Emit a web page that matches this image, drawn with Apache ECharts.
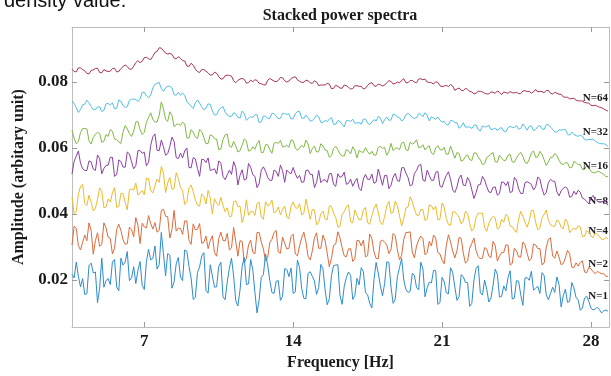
<!DOCTYPE html>
<html><head><meta charset="utf-8">
<script src="https://cdn.jsdelivr.net/npm/echarts@6/dist/echarts.min.js"></script>
<style>html,body{margin:0;padding:0;background:#fff}#c{width:611px;height:376px}</style>
</head><body><div id="c"></div>
<script>
// Frequency samples (Hz): main grid and the in-between grid
const freq = [3.6,3.8,4.0,4.2,4.4,4.6,4.8,5.0,5.2,5.4,5.6,5.8,6.0,6.2,6.4,6.6,6.8,7.0,7.2,7.4,7.6,7.8,8.0,8.2,8.4,8.6,8.8,9.0,9.2,9.4,9.6,9.8,10.0,10.2,10.4,10.6,10.8,11.0,11.2,11.4,11.6,11.8,12.0,12.2,12.4,12.6,12.8,13.0,13.2,13.4,13.6,13.8,14.0,14.2,14.4,14.6,14.8,15.0,15.2,15.4,15.6,15.8,16.0,16.2,16.4,16.6,16.8,17.0,17.2,17.4,17.6,17.8,18.0,18.2,18.4,18.6,18.8,19.0,19.2,19.4,19.6,19.8,20.0,20.2,20.4,20.6,20.8,21.0,21.2,21.4,21.6,21.8,22.0,22.2,22.4,22.6,22.8,23.0,23.2,23.4,23.6,23.8,24.0,24.2,24.4,24.6,24.8,25.0,25.2,25.4,25.6,25.8,26.0,26.2,26.4,26.6,26.8,27.0,27.2,27.4,27.6,27.8,28.0,28.2,28.4,28.6,28.8];
const freqMid = [3.7,3.9,4.1,4.3,4.5,4.7,4.9,5.1,5.3,5.5,5.7,5.9,6.1,6.3,6.5,6.7,6.9,7.1,7.3,7.5,7.7,7.9,8.1,8.3,8.5,8.7,8.9,9.1,9.3,9.5,9.7,9.9,10.1,10.3,10.5,10.7,10.9,11.1,11.3,11.5,11.7,11.9,12.1,12.3,12.5,12.7,12.9,13.1,13.3,13.5,13.7,13.9,14.1,14.3,14.5,14.7,14.9,15.1,15.3,15.5,15.7,15.9,16.1,16.3,16.5,16.7,16.9,17.1,17.3,17.5,17.7,17.9,18.1,18.3,18.5,18.7,18.9,19.1,19.3,19.5,19.7,19.9,20.1,20.3,20.5,20.7,20.9,21.1,21.3,21.5,21.7,21.9,22.1,22.3,22.5,22.7,22.9,23.1,23.3,23.5,23.7,23.9,24.1,24.3,24.5,24.7,24.9,25.1,25.3,25.5,25.7,25.9,26.1,26.3,26.5,26.7,26.9,27.1,27.3,27.5,27.7,27.9,28.1,28.3,28.5,28.7];

// N=64
const n64 = [0.0839,0.0831,0.0843,0.0834,0.0825,0.0837,0.0842,0.0828,0.0834,0.0833,0.0842,0.0832,0.0847,0.0847,0.0839,0.0859,0.0859,0.0874,0.0871,0.0878,0.0893,0.0903,0.0888,0.0887,0.0873,0.0877,0.0865,0.0849,0.0857,0.0839,0.0829,0.0838,0.0828,0.0822,0.0827,0.0809,0.0819,0.0820,0.0804,0.0805,0.0811,0.0797,0.0806,0.0807,0.0796,0.0792,0.0805,0.0807,0.0801,0.0814,0.0804,0.0803,0.0814,0.0807,0.0799,0.0806,0.0798,0.0804,0.0789,0.0791,0.0796,0.0780,0.0790,0.0782,0.0791,0.0784,0.0780,0.0789,0.0787,0.0781,0.0796,0.0789,0.0794,0.0788,0.0798,0.0802,0.0796,0.0798,0.0810,0.0798,0.0805,0.0798,0.0810,0.0809,0.0799,0.0794,0.0799,0.0786,0.0790,0.0793,0.0775,0.0782,0.0774,0.0778,0.0770,0.0766,0.0772,0.0766,0.0764,0.0769,0.0773,0.0762,0.0768,0.0771,0.0767,0.0765,0.0773,0.0771,0.0766,0.0778,0.0772,0.0768,0.0775,0.0764,0.0766,0.0763,0.0754,0.0749,0.0751,0.0743,0.0742,0.0737,0.0730,0.0730,0.0724,0.0719,0.0712];
const n64m = [0.0832,0.0843,0.0838,0.0826,0.0835,0.0841,0.0829,0.0838,0.0832,0.0841,0.0831,0.0841,0.0852,0.0839,0.0848,0.0865,0.0863,0.0875,0.0868,0.0890,0.0904,0.0895,0.0885,0.0884,0.0870,0.0872,0.0864,0.0847,0.0851,0.0832,0.0838,0.0833,0.0821,0.0830,0.0817,0.0810,0.0821,0.0818,0.0798,0.0809,0.0808,0.0798,0.0801,0.0805,0.0795,0.0791,0.0811,0.0803,0.0805,0.0813,0.0800,0.0811,0.0816,0.0802,0.0799,0.0804,0.0796,0.0800,0.0791,0.0791,0.0794,0.0781,0.0787,0.0781,0.0789,0.0779,0.0789,0.0787,0.0779,0.0790,0.0798,0.0787,0.0792,0.0791,0.0804,0.0794,0.0800,0.0805,0.0798,0.0805,0.0800,0.0809,0.0807,0.0800,0.0798,0.0801,0.0789,0.0788,0.0786,0.0788,0.0779,0.0775,0.0781,0.0772,0.0764,0.0772,0.0770,0.0764,0.0770,0.0766,0.0769,0.0770,0.0766,0.0768,0.0769,0.0765,0.0774,0.0772,0.0770,0.0770,0.0771,0.0774,0.0766,0.0769,0.0763,0.0755,0.0754,0.0750,0.0745,0.0743,0.0738,0.0736,0.0728,0.0727,0.0722,0.0715];
// N=32
const n32 = [0.0742,0.0722,0.0717,0.0733,0.0737,0.0717,0.0725,0.0711,0.0734,0.0731,0.0719,0.0746,0.0729,0.0725,0.0748,0.0748,0.0749,0.0769,0.0752,0.0782,0.0796,0.0780,0.0783,0.0788,0.0762,0.0769,0.0767,0.0740,0.0726,0.0737,0.0736,0.0716,0.0734,0.0713,0.0701,0.0721,0.0709,0.0696,0.0707,0.0693,0.0712,0.0684,0.0695,0.0701,0.0677,0.0697,0.0690,0.0705,0.0697,0.0690,0.0704,0.0704,0.0689,0.0711,0.0691,0.0700,0.0682,0.0690,0.0695,0.0677,0.0680,0.0692,0.0672,0.0681,0.0664,0.0683,0.0687,0.0676,0.0672,0.0688,0.0671,0.0686,0.0696,0.0674,0.0694,0.0685,0.0701,0.0692,0.0687,0.0705,0.0692,0.0692,0.0702,0.0707,0.0682,0.0690,0.0694,0.0678,0.0671,0.0683,0.0677,0.0660,0.0677,0.0664,0.0659,0.0670,0.0652,0.0664,0.0669,0.0657,0.0653,0.0662,0.0649,0.0666,0.0663,0.0657,0.0673,0.0654,0.0667,0.0656,0.0668,0.0656,0.0671,0.0657,0.0648,0.0654,0.0656,0.0639,0.0642,0.0636,0.0636,0.0624,0.0626,0.0621,0.0614,0.0613,0.0605];
const n32m = [0.0736,0.0708,0.0731,0.0745,0.0726,0.0716,0.0725,0.0714,0.0735,0.0737,0.0721,0.0742,0.0723,0.0745,0.0748,0.0741,0.0769,0.0758,0.0761,0.0793,0.0799,0.0772,0.0787,0.0782,0.0760,0.0760,0.0760,0.0735,0.0720,0.0746,0.0725,0.0721,0.0732,0.0700,0.0716,0.0726,0.0700,0.0696,0.0704,0.0691,0.0705,0.0691,0.0693,0.0701,0.0679,0.0696,0.0690,0.0704,0.0689,0.0705,0.0702,0.0688,0.0704,0.0711,0.0690,0.0692,0.0683,0.0700,0.0678,0.0684,0.0688,0.0672,0.0683,0.0672,0.0683,0.0681,0.0675,0.0677,0.0688,0.0675,0.0679,0.0682,0.0691,0.0686,0.0684,0.0703,0.0694,0.0682,0.0701,0.0700,0.0690,0.0704,0.0695,0.0699,0.0695,0.0687,0.0685,0.0681,0.0670,0.0683,0.0677,0.0665,0.0663,0.0664,0.0669,0.0656,0.0667,0.0665,0.0656,0.0661,0.0659,0.0651,0.0661,0.0662,0.0668,0.0659,0.0664,0.0666,0.0653,0.0665,0.0658,0.0671,0.0663,0.0649,0.0655,0.0656,0.0642,0.0648,0.0637,0.0638,0.0626,0.0626,0.0627,0.0617,0.0613,0.0611];
// N=16
const n16 = [0.0654,0.0613,0.0647,0.0659,0.0622,0.0632,0.0648,0.0617,0.0641,0.0656,0.0627,0.0618,0.0648,0.0658,0.0635,0.0679,0.0656,0.0648,0.0693,0.0687,0.0679,0.0740,0.0687,0.0710,0.0665,0.0673,0.0678,0.0631,0.0656,0.0633,0.0656,0.0632,0.0614,0.0637,0.0627,0.0597,0.0640,0.0606,0.0620,0.0588,0.0609,0.0621,0.0592,0.0596,0.0623,0.0587,0.0610,0.0584,0.0617,0.0623,0.0605,0.0602,0.0622,0.0593,0.0608,0.0624,0.0583,0.0606,0.0589,0.0606,0.0592,0.0577,0.0605,0.0582,0.0576,0.0592,0.0604,0.0570,0.0588,0.0601,0.0581,0.0578,0.0602,0.0599,0.0578,0.0614,0.0599,0.0595,0.0618,0.0592,0.0612,0.0625,0.0603,0.0594,0.0607,0.0580,0.0607,0.0594,0.0581,0.0606,0.0569,0.0584,0.0563,0.0579,0.0562,0.0585,0.0564,0.0552,0.0575,0.0586,0.0557,0.0570,0.0563,0.0581,0.0557,0.0580,0.0575,0.0553,0.0585,0.0572,0.0590,0.0564,0.0558,0.0572,0.0577,0.0552,0.0556,0.0540,0.0559,0.0549,0.0535,0.0548,0.0529,0.0525,0.0528,0.0520,0.0513];
const n16m = [0.0630,0.0620,0.0659,0.0658,0.0612,0.0642,0.0644,0.0621,0.0635,0.0651,0.0626,0.0614,0.0668,0.0644,0.0651,0.0680,0.0641,0.0678,0.0707,0.0679,0.0699,0.0719,0.0681,0.0699,0.0671,0.0668,0.0673,0.0630,0.0648,0.0629,0.0650,0.0613,0.0640,0.0628,0.0595,0.0626,0.0642,0.0602,0.0606,0.0592,0.0628,0.0591,0.0604,0.0613,0.0586,0.0610,0.0595,0.0615,0.0614,0.0603,0.0608,0.0625,0.0600,0.0600,0.0602,0.0613,0.0598,0.0588,0.0613,0.0594,0.0572,0.0599,0.0595,0.0576,0.0595,0.0582,0.0593,0.0593,0.0587,0.0589,0.0590,0.0579,0.0605,0.0602,0.0590,0.0592,0.0600,0.0615,0.0595,0.0618,0.0615,0.0601,0.0610,0.0602,0.0585,0.0600,0.0595,0.0602,0.0582,0.0588,0.0586,0.0560,0.0575,0.0565,0.0585,0.0573,0.0550,0.0571,0.0583,0.0558,0.0578,0.0562,0.0578,0.0558,0.0570,0.0587,0.0557,0.0566,0.0591,0.0573,0.0581,0.0547,0.0572,0.0583,0.0563,0.0550,0.0555,0.0541,0.0556,0.0550,0.0535,0.0541,0.0525,0.0529,0.0524,0.0514];
// N=8
const n8 = [0.0521,0.0575,0.0554,0.0532,0.0561,0.0536,0.0579,0.0522,0.0547,0.0572,0.0514,0.0564,0.0542,0.0588,0.0558,0.0546,0.0592,0.0587,0.0557,0.0634,0.0593,0.0624,0.0578,0.0605,0.0620,0.0568,0.0570,0.0600,0.0540,0.0567,0.0514,0.0565,0.0570,0.0534,0.0521,0.0554,0.0504,0.0533,0.0559,0.0488,0.0534,0.0506,0.0542,0.0514,0.0492,0.0543,0.0511,0.0502,0.0529,0.0548,0.0496,0.0526,0.0541,0.0508,0.0496,0.0532,0.0520,0.0480,0.0532,0.0502,0.0496,0.0523,0.0484,0.0511,0.0527,0.0493,0.0484,0.0508,0.0471,0.0520,0.0505,0.0493,0.0536,0.0487,0.0517,0.0487,0.0523,0.0499,0.0541,0.0511,0.0489,0.0532,0.0551,0.0499,0.0517,0.0502,0.0529,0.0481,0.0517,0.0505,0.0465,0.0509,0.0487,0.0511,0.0473,0.0465,0.0489,0.0503,0.0467,0.0481,0.0457,0.0497,0.0486,0.0465,0.0511,0.0476,0.0462,0.0498,0.0490,0.0482,0.0506,0.0457,0.0495,0.0500,0.0467,0.0470,0.0482,0.0451,0.0469,0.0472,0.0448,0.0438,0.0448,0.0446,0.0435,0.0440,0.0426];
const n8m = [0.0560,0.0591,0.0537,0.0532,0.0558,0.0532,0.0568,0.0538,0.0548,0.0572,0.0519,0.0559,0.0542,0.0582,0.0537,0.0592,0.0584,0.0546,0.0608,0.0643,0.0592,0.0604,0.0583,0.0633,0.0571,0.0584,0.0591,0.0541,0.0571,0.0538,0.0566,0.0556,0.0532,0.0537,0.0561,0.0514,0.0519,0.0520,0.0541,0.0517,0.0503,0.0553,0.0519,0.0480,0.0533,0.0530,0.0502,0.0533,0.0514,0.0532,0.0533,0.0522,0.0522,0.0517,0.0497,0.0533,0.0520,0.0496,0.0495,0.0504,0.0522,0.0489,0.0522,0.0514,0.0490,0.0506,0.0498,0.0477,0.0506,0.0505,0.0521,0.0497,0.0512,0.0517,0.0477,0.0512,0.0501,0.0540,0.0524,0.0485,0.0523,0.0547,0.0503,0.0533,0.0502,0.0526,0.0485,0.0501,0.0528,0.0473,0.0482,0.0518,0.0486,0.0499,0.0447,0.0488,0.0514,0.0483,0.0465,0.0482,0.0462,0.0496,0.0498,0.0468,0.0503,0.0462,0.0495,0.0494,0.0473,0.0512,0.0478,0.0465,0.0505,0.0499,0.0455,0.0478,0.0477,0.0453,0.0459,0.0466,0.0445,0.0431,0.0456,0.0440,0.0436,0.0437];
// N=4
const n4 = [0.0452,0.0408,0.0484,0.0432,0.0457,0.0409,0.0445,0.0469,0.0421,0.0436,0.0480,0.0423,0.0462,0.0413,0.0476,0.0494,0.0464,0.0458,0.0507,0.0464,0.0506,0.0544,0.0465,0.0511,0.0477,0.0508,0.0471,0.0438,0.0488,0.0442,0.0424,0.0453,0.0471,0.0400,0.0433,0.0450,0.0407,0.0392,0.0437,0.0422,0.0374,0.0443,0.0407,0.0396,0.0436,0.0384,0.0425,0.0442,0.0407,0.0397,0.0424,0.0386,0.0437,0.0417,0.0397,0.0445,0.0384,0.0412,0.0375,0.0409,0.0382,0.0423,0.0389,0.0362,0.0407,0.0427,0.0373,0.0396,0.0383,0.0420,0.0369,0.0416,0.0406,0.0368,0.0425,0.0402,0.0439,0.0394,0.0387,0.0421,0.0438,0.0397,0.0414,0.0380,0.0428,0.0412,0.0382,0.0433,0.0386,0.0366,0.0407,0.0390,0.0378,0.0402,0.0348,0.0390,0.0402,0.0360,0.0372,0.0393,0.0354,0.0384,0.0399,0.0363,0.0351,0.0384,0.0393,0.0360,0.0411,0.0375,0.0357,0.0399,0.0381,0.0363,0.0382,0.0359,0.0385,0.0343,0.0357,0.0364,0.0332,0.0350,0.0333,0.0342,0.0332,0.0322,0.0325];
const n4m = [0.0401,0.0459,0.0490,0.0426,0.0436,0.0417,0.0479,0.0419,0.0445,0.0464,0.0420,0.0462,0.0435,0.0474,0.0472,0.0457,0.0471,0.0509,0.0470,0.0485,0.0496,0.0524,0.0494,0.0475,0.0525,0.0480,0.0429,0.0479,0.0468,0.0427,0.0461,0.0430,0.0449,0.0446,0.0426,0.0426,0.0419,0.0393,0.0440,0.0424,0.0396,0.0396,0.0408,0.0432,0.0391,0.0437,0.0429,0.0403,0.0421,0.0414,0.0391,0.0423,0.0419,0.0431,0.0402,0.0415,0.0414,0.0367,0.0400,0.0385,0.0425,0.0403,0.0360,0.0399,0.0422,0.0376,0.0412,0.0382,0.0413,0.0373,0.0396,0.0430,0.0373,0.0392,0.0438,0.0405,0.0425,0.0364,0.0418,0.0452,0.0415,0.0395,0.0413,0.0385,0.0425,0.0424,0.0384,0.0421,0.0368,0.0406,0.0399,0.0370,0.0409,0.0370,0.0357,0.0403,0.0403,0.0347,0.0385,0.0388,0.0359,0.0375,0.0393,0.0362,0.0344,0.0408,0.0375,0.0379,0.0410,0.0352,0.0388,0.0412,0.0367,0.0363,0.0377,0.0355,0.0375,0.0352,0.0353,0.0361,0.0332,0.0345,0.0328,0.0339,0.0324,0.0329];
// N=2
const n2 = [0.0306,0.0356,0.0291,0.0336,0.0373,0.0278,0.0343,0.0308,0.0358,0.0326,0.0296,0.0369,0.0322,0.0310,0.0353,0.0389,0.0310,0.0361,0.0395,0.0354,0.0345,0.0411,0.0393,0.0327,0.0411,0.0357,0.0338,0.0379,0.0308,0.0352,0.0371,0.0314,0.0295,0.0334,0.0272,0.0345,0.0318,0.0291,0.0359,0.0272,0.0317,0.0266,0.0321,0.0279,0.0344,0.0294,0.0268,0.0323,0.0350,0.0281,0.0311,0.0296,0.0339,0.0273,0.0327,0.0315,0.0261,0.0328,0.0296,0.0336,0.0281,0.0266,0.0309,0.0328,0.0273,0.0294,0.0256,0.0320,0.0303,0.0270,0.0339,0.0285,0.0264,0.0321,0.0306,0.0293,0.0334,0.0261,0.0323,0.0344,0.0285,0.0303,0.0333,0.0276,0.0317,0.0336,0.0283,0.0260,0.0305,0.0315,0.0267,0.0329,0.0281,0.0257,0.0311,0.0289,0.0264,0.0298,0.0272,0.0317,0.0257,0.0283,0.0306,0.0245,0.0296,0.0270,0.0315,0.0281,0.0264,0.0306,0.0295,0.0251,0.0323,0.0272,0.0288,0.0246,0.0267,0.0279,0.0237,0.0242,0.0258,0.0222,0.0234,0.0219,0.0222,0.0219,0.0211];
const n2m = [0.0363,0.0304,0.0314,0.0319,0.0350,0.0319,0.0302,0.0373,0.0330,0.0279,0.0353,0.0350,0.0308,0.0360,0.0331,0.0366,0.0372,0.0358,0.0371,0.0374,0.0350,0.0414,0.0392,0.0353,0.0348,0.0356,0.0379,0.0320,0.0370,0.0354,0.0311,0.0333,0.0319,0.0283,0.0325,0.0320,0.0341,0.0297,0.0316,0.0319,0.0252,0.0306,0.0284,0.0344,0.0315,0.0257,0.0313,0.0344,0.0285,0.0330,0.0294,0.0332,0.0279,0.0303,0.0345,0.0271,0.0288,0.0343,0.0296,0.0319,0.0240,0.0305,0.0346,0.0298,0.0270,0.0295,0.0264,0.0319,0.0321,0.0274,0.0326,0.0265,0.0317,0.0314,0.0280,0.0341,0.0291,0.0275,0.0344,0.0346,0.0267,0.0321,0.0325,0.0283,0.0303,0.0327,0.0279,0.0249,0.0337,0.0288,0.0288,0.0326,0.0251,0.0296,0.0327,0.0271,0.0266,0.0294,0.0268,0.0305,0.0273,0.0283,0.0306,0.0250,0.0289,0.0269,0.0307,0.0258,0.0309,0.0295,0.0246,0.0299,0.0328,0.0266,0.0269,0.0250,0.0290,0.0239,0.0252,0.0253,0.0224,0.0238,0.0225,0.0226,0.0219,0.0211];
// N=1
const n1 = [0.0217,0.0254,0.0179,0.0156,0.0244,0.0221,0.0131,0.0266,0.0198,0.0186,0.0262,0.0167,0.0245,0.0286,0.0206,0.0189,0.0256,0.0171,0.0293,0.0265,0.0233,0.0344,0.0213,0.0275,0.0194,0.0268,0.0198,0.0287,0.0206,0.0147,0.0239,0.0283,0.0160,0.0212,0.0179,0.0254,0.0140,0.0236,0.0212,0.0121,0.0241,0.0186,0.0262,0.0163,0.0140,0.0216,0.0245,0.0162,0.0196,0.0138,0.0234,0.0210,0.0159,0.0260,0.0175,0.0143,0.0225,0.0197,0.0177,0.0234,0.0125,0.0213,0.0245,0.0154,0.0180,0.0224,0.0141,0.0205,0.0237,0.0161,0.0129,0.0202,0.0221,0.0152,0.0255,0.0178,0.0142,0.0238,0.0200,0.0162,0.0220,0.0177,0.0254,0.0149,0.0193,0.0229,0.0126,0.0208,0.0161,0.0237,0.0179,0.0149,0.0210,0.0192,0.0129,0.0235,0.0161,0.0200,0.0133,0.0184,0.0217,0.0150,0.0167,0.0228,0.0145,0.0196,0.0123,0.0207,0.0226,0.0175,0.0159,0.0213,0.0140,0.0178,0.0209,0.0118,0.0172,0.0135,0.0176,0.0139,0.0115,0.0151,0.0115,0.0112,0.0110,0.0106,0.0105];
const n1m = [0.0206,0.0211,0.0204,0.0158,0.0251,0.0224,0.0175,0.0178,0.0204,0.0254,0.0179,0.0266,0.0254,0.0198,0.0240,0.0229,0.0184,0.0256,0.0261,0.0303,0.0247,0.0279,0.0280,0.0175,0.0249,0.0209,0.0291,0.0241,0.0141,0.0223,0.0273,0.0168,0.0246,0.0178,0.0241,0.0149,0.0194,0.0266,0.0137,0.0169,0.0268,0.0188,0.0231,0.0100,0.0208,0.0279,0.0199,0.0159,0.0198,0.0150,0.0232,0.0236,0.0164,0.0238,0.0144,0.0220,0.0211,0.0156,0.0247,0.0170,0.0143,0.0244,0.0246,0.0126,0.0207,0.0214,0.0153,0.0185,0.0225,0.0155,0.0115,0.0253,0.0182,0.0189,0.0253,0.0129,0.0210,0.0265,0.0171,0.0165,0.0214,0.0170,0.0233,0.0176,0.0191,0.0229,0.0131,0.0195,0.0158,0.0223,0.0138,0.0216,0.0192,0.0120,0.0200,0.0243,0.0154,0.0172,0.0145,0.0233,0.0148,0.0182,0.0207,0.0142,0.0198,0.0155,0.0206,0.0199,0.0169,0.0181,0.0222,0.0154,0.0159,0.0162,0.0186,0.0152,0.0132,0.0192,0.0147,0.0108,0.0145,0.0135,0.0109,0.0117,0.0100,0.0109];

const seriesNames = ['N=64','N=32','N=16','N=8','N=4','N=2','N=1'];
const seriesValues = [n64, n32, n16, n8, n4, n2, n1];
const seriesMidValues = [n64m, n32m, n16m, n8m, n4m, n2m, n1m];
const seriesColors = ['#a8324f','#4fbfe6','#7fb843','#8c3fa3','#edba2c','#dd6a3a','#2d8ccc'];
// anchor of each "N=" tag (data units)
const labelFreq = 28.8;
const labelAmp = [0.0750,0.0647,0.0545,0.0439,0.0348,0.0249,0.0152];
const xTicks = [7,14,21,28];
const yTicks = [0.02,0.04,0.06,0.08];

const SERIF = '"Liberation Serif","Times New Roman",serif';
const chart = echarts.init(document.getElementById('c'), null, {renderer:'canvas'});

function buildData(vals, mids) {
  const out = [];
  for (let i = 0; i < freq.length; i++) {
    out.push([freq[i], vals[i]]);
    if (i < freqMid.length) out.push([freqMid[i], mids[i]]);
  }
  return out;
}

const series = seriesNames.map((name, k) => ({
  name: name,
  type: 'line',
  showSymbol: false,
  symbol: 'none',
  animation: false,
  lineStyle: {width: 1, color: seriesColors[k]},
  z: 2 + k,
  data: buildData(seriesValues[k], seriesMidValues[k]),
  markPoint: {
    symbol: 'circle', symbolSize: 0, animation: false,
    label: {show: true, position: 'left', distance: 0, formatter: name,
      fontFamily: SERIF, fontWeight: 'bold', fontSize: 11, color: '#1a1a1a'},
    data: [{coord: [labelFreq, labelAmp[k]], value: name}]
  }
}));

const axisLineStyle = {color: '#bdbdbd', width: 1};
const tickStyle = {color: '#9a9a9a', width: 1};

chart.setOption({
  animation: false,
  backgroundColor: '#fff',
  title: {
    text: 'Stacked power spectra', left: 340, top: 8, textAlign: 'center', padding: 0,
    textStyle: {fontFamily: SERIF, fontWeight: 'bold', fontSize: 16, color: '#1a1a1a'}
  },
  graphic: [{
    type: 'text', x: 4, y: -9,
    style: {text: 'density value.', font: '20px "Liberation Sans", Arial, sans-serif', fill: '#111', verticalAlign: 'top'}
  }],
  grid: {left: 72, right: 2, top: 27, bottom: 47, containLabel: false},
  xAxis: [{
    type: 'value', min: 3.6, max: 28.85, position: 'bottom',
    axisLine: {show: true, onZero: false, lineStyle: axisLineStyle},
    axisTick: {show: true, inside: true, length: 5, customValues: xTicks, lineStyle: tickStyle},
    axisLabel: {customValues: xTicks, margin: 6, fontFamily: SERIF, fontWeight: 'bold', fontSize: 17, color: '#1a1a1a'},
    splitLine: {show: false},
    name: 'Frequency [Hz]', nameLocation: 'middle', nameGap: 26,
    nameTextStyle: {fontFamily: SERIF, fontWeight: 'bold', fontSize: 16, color: '#1a1a1a'}
  }, {
    type: 'value', min: 3.6, max: 28.85, position: 'top',
    axisLine: {show: true, onZero: false, lineStyle: axisLineStyle},
    axisTick: {show: true, inside: true, length: 5, customValues: xTicks, lineStyle: tickStyle},
    axisLabel: {show: false}, splitLine: {show: false}
  }],
  yAxis: [{
    type: 'value', min: 0.0057, max: 0.0967, position: 'left',
    axisLine: {show: true, onZero: false, lineStyle: axisLineStyle},
    axisTick: {show: true, inside: true, length: 5, customValues: yTicks, lineStyle: tickStyle},
    axisLabel: {customValues: yTicks, margin: 4, fontFamily: SERIF, fontWeight: 'bold', fontSize: 17, color: '#1a1a1a',
      formatter: v => v.toFixed(2)},
    splitLine: {show: false},
    name: 'Amplitude (arbitary unit)', nameLocation: 'middle', nameGap: 40, nameRotate: 90,
    nameTextStyle: {fontFamily: SERIF, fontWeight: 'bold', fontSize: 16, color: '#1a1a1a'}
  }, {
    type: 'value', min: 0.0057, max: 0.0967, position: 'right',
    axisLine: {show: true, onZero: false, lineStyle: axisLineStyle},
    axisTick: {show: true, inside: true, length: 5, customValues: yTicks, lineStyle: tickStyle},
    axisLabel: {show: false}, splitLine: {show: false}
  }],
  series: series
});
</script>
</body></html>
